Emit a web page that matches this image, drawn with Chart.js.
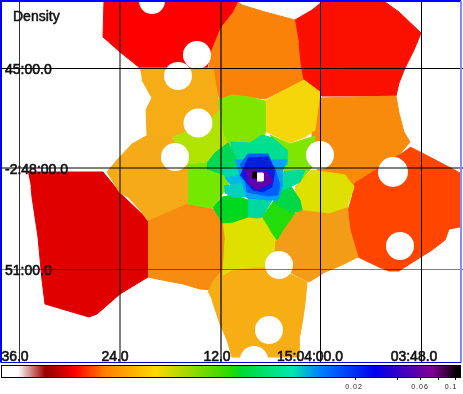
<!DOCTYPE html>
<html>
<head>
<meta charset="utf-8">
<style>
html, body { margin: 0; padding: 0; background: #fff; }
#wrap { width: 463px; height: 394px; }
</style>
<script src="https://cdn.jsdelivr.net/npm/chart.js@4/dist/chart.umd.min.js"></script>
</head>
<body>
<div id="wrap"><canvas id="myChart" width="463" height="394"></canvas></div>
<script>
// map axes are in image pixels of the sky map, labels are the WCS values
const gridX = [19, 120, 221, 320.5, 421];
const gridY = [68, 168, 269];
const gridXColors = ['#333', 'rgba(0,0,0,.5)', 'rgba(0,0,0,.6)', '#000', '#000'];
const gridYColors = ['#000', 'rgba(0,0,0,.5)', 'rgba(0,0,0,.5)'];
const gridYWidths = [1, 2, 1];
const raLabels = ['36.0', '24.0', '12.0', '15:04:00.0', '03:48.0'];
const raLabelAt = [15, 115, 217, 310, 414];
const decLabels = ['45:00.0', '-2:48:00.0', '51:00.0'];

// tessellation cells, drawn back to front
const cellColors = [
  '#ff0000', '#fb8208', '#fb1000', '#f88b0c', '#ff4500', '#e00000', '#f6ac14', '#f5aa18',
  '#f78c10', '#f6ae14', '#f29c17', '#f5d60a', '#80e600', '#b0e300', '#74e800', '#80e600',
  '#dde000', '#e0e000', '#22dd0a', '#00d820', '#00d746', '#00de90', '#00d855', '#00d8b0',
  '#00b8e8', '#00d0c0', '#00d7a0', '#00dc98', '#00a0ff', '#0060ff', '#0020e0', '#6000b0',
  '#000000', '#ffffff'
];
const cellX = [
  [104,103,120,140,207,212,221,232,238],
  [238,242,265,295,299,301,304,265,249,232,220,215,209,212,221,232],
  [295,312,322,385,399,421,414,405,399,396,322,304,301,299],
  [318,396,399,404,410,399,379,355,340,320,312,312],
  [410,422,445,460,460,449,445,432,405,399,389,379,358,352,347,349,352,355,379,399],
  [28,103,120,148,148,120,97,89,72,45,42,38,32,31],
  [140,207,213,220,213,183,172,147,146,152,142],
  [147,172,187,195,190,188,148,140,128,120,107,117,133],
  [148,188,213,226,226,213,200,183,157,148],
  [208,213,222,232,265,307,305,302,299,299,232,227,220,212],
  [275,283,304,329,347,350,358,342,325,309,295,279,274],
  [262,304,320,315,305,290,267,262],
  [218,232,249,265,265,262,232,220,220],
  [213,220,223,230,215,207,195,187,173,183],
  [188,207,228,228,223,213,188],
  [270,290,315,312,299,284],
  [295,312,345,354,347,329,304,295],
  [222,233,248,262,270,277,275,274,265,257,232,223,225],
  [262,273,283,292,295,283,277,270],
  [213,222,233,248,248,233,222],
  [275,290,300,302,292,273],
  [230,250,262,273,287,287,250,235],
  [207,215,228,240,225,207],
  [222,240,245,240,225],
  [225,240,245,232],
  [224,242,250,233,225],
  [248,262,272,262,257,248],
  [278,305,300,290,278],
  [235,247,287,282,282,278,268,247,245,240],
  [240,248,268,275,280,278,268,247,245],
  [248,268,275,272,263,253,240],
  [245,268,273,257,248],
  [252,257,257,252],
  [257,263,263,257]
];
const cellY = [
  [1,37,52,68,68,50,28,14,2],
  [2,5,12,20,43,63,80,99,97,95,100,85,67,50,28,14],
  [20,10,2,2,12,33,50,68,83,96,96,80,63,43],
  [98,96,113,132,142,155,170,185,185,180,150,130],
  [147,153,165,173,227,229,240,250,267,271,271,267,257,237,217,207,197,183,168,155],
  [172,172,193,220,277,294,314,317,312,304,280,237,197,187],
  [68,68,68,110,117,133,137,135,110,98,80],
  [135,137,163,165,187,204,221,210,197,193,172,160,143],
  [221,204,209,222,264,290,289,284,279,277],
  [292,282,270,265,262,282,304,324,340,357,357,340,324,300],
  [240,225,205,205,205,230,257,265,272,282,275,266,252],
  [102,80,92,130,137,143,132,132],
  [100,95,97,101,133,150,150,135,118],
  [117,110,133,150,160,167,167,165,137,133],
  [165,163,165,190,193,208,204],
  [135,144,136,167,183,172],
  [187,170,175,187,207,213,210,207],
  [218,215,210,212,225,240,240,252,267,267,270,275,240],
  [217,202,207,213,213,230,240,230],
  [208,197,195,200,217,222,223],
  [190,185,200,210,213,202],
  [142,143,135,138,150,165,165,165],
  [163,153,143,165,175,169],
  [170,165,172,180,178],
  [178,175,185,187],
  [186,183,197,197,193],
  [195,195,200,217,218,217],
  [172,170,182,187,192],
  [160,160,160,172,187,200,200,198,190,177],
  [165,154,154,170,185,195,196,192,178],
  [158,157,170,187,192,190,175],
  [170,172,182,190,183],
  [172,172,178,178],
  [173,173,181,181]
];

// masked point sources
const holeX = [152, 197, 178, 198, 175, 320, 393, 400, 279, 269, 254];
const holeY = [1, 55, 76, 123, 157, 155, 172, 246, 265, 330, 360];
const holeR = [13, 14, 14, 14.5, 14, 14, 15, 14, 14, 14, 14];

// colour bar along the bottom
const barStopX = [1, 18, 45, 50, 75, 105, 155, 232, 240, 292, 320, 375, 432, 458];
const barStopColors = ['#ffffff', '#ffffff', '#a00000', '#a00000', '#ff0000', '#ff8000', '#ffd800',
  '#20dc00', '#00d830', '#00e8b0', '#0080ff', '#0000ee', '#800090', '#000000'];
const barTickX = [355, 397, 420, 438, 455];
const barLabels = ['0.02', '0.06', '0.1'];
const barLabelX = [354, 420, 451];
const frameX = [1, 461];
const frameY = [1, 362.5];
const densityTitle = 'Density';

let datasets = cellX.map((xs, i) => ({
  data: xs.map((x, j) => ({ x: x, y: cellY[i][j] })),
  showLine: true,
  fill: 'shape',
  backgroundColor: cellColors[i],
  borderColor: cellColors[i],
  borderWidth: 1,
  tension: 0,
  pointRadius: 0,
  order: 100 - i
}));
datasets.push({
  data: holeX.map((x, i) => ({ x: x, y: holeY[i] })),
  pointRadius: holeR,
  pointBackgroundColor: '#fff',
  pointBorderColor: '#fff',
  pointBorderWidth: 0,
  order: 0
});

function noPadding(s) {
  s.paddingLeft = s.paddingRight = s.paddingTop = s.paddingBottom = 0;
}

const mapExtras = {
  id: 'mapExtras',
  afterDraw(chart) {
    const ctx = chart.ctx;
    const sx = chart.scales.x;
    const sy = chart.scales.y;
    const l = sx.getPixelForValue(frameX[0]);
    const r = sx.getPixelForValue(frameX[1]);
    const t = sy.getPixelForValue(frameY[0]);
    const b = sy.getPixelForValue(frameY[1]);
    ctx.save();
    ctx.lineWidth = 2;
    ctx.strokeStyle = '#0000ff';
    ctx.beginPath();
    ctx.moveTo(l, b); ctx.lineTo(l, t); ctx.lineTo(r, t);
    ctx.stroke();
    ctx.strokeStyle = '#8888ff';
    ctx.beginPath();
    ctx.moveTo(r, t); ctx.lineTo(r, b);
    ctx.stroke();
    ctx.lineWidth = 1;
    ctx.strokeStyle = '#0000dd';
    ctx.beginPath();
    ctx.moveTo(l, b); ctx.lineTo(r, b);
    ctx.stroke();

    // colour bar
    const g = ctx.createLinearGradient(barStopX[0], 0, barStopX[barStopX.length - 1], 0);
    barStopX.forEach((x, i) => {
      g.addColorStop((x - barStopX[0]) / (barStopX[barStopX.length - 1] - barStopX[0]), barStopColors[i]);
    });
    ctx.fillStyle = g;
    ctx.fillRect(1, 366, 460, 11);
    ctx.strokeStyle = '#000';
    ctx.strokeRect(1.5, 365.5, 459, 12);
    barTickX.forEach(x => {
      ctx.beginPath();
      ctx.moveTo(x + 0.5, 378); ctx.lineTo(x + 0.5, 380);
      ctx.stroke();
    });
    ctx.fillStyle = '#222';
    ctx.font = '7px "Liberation Sans"';
    ctx.letterSpacing = '1px';
    ctx.textAlign = 'center';
    ctx.textBaseline = 'middle';
    barLabels.forEach((s, i) => ctx.fillText(s, barLabelX[i], 387));

    // title
    ctx.letterSpacing = '0px';
    ctx.font = '14px "Liberation Sans"';
    ctx.fillStyle = '#111';
    ctx.strokeStyle = '#111';
    ctx.lineWidth = 0.5;
    ctx.textAlign = 'left';
    ctx.fillText(densityTitle, 13, 17);
    ctx.strokeText(densityTitle, 13, 17);
    ctx.restore();
  }
};

let myChart = new Chart(document.getElementById('myChart').getContext('2d'), {
  type: 'scatter',
  data: { datasets: datasets },
  plugins: [mapExtras],
  options: {
    responsive: false,
    animation: false,
    layout: { padding: 0, autoPadding: false },
    plugins: { legend: { display: false }, tooltip: { enabled: false } },
    scales: {
      x: {
        type: 'linear', min: 0, max: 463,
        afterBuildTicks: s => { s.ticks = gridX.map(v => ({ value: v })); },
        afterFit: s => { s.height = 0; noPadding(s); },
        ticks: { display: false },
        border: { display: false },
        grid: {
          z: 1, drawTicks: false,
          color: c => gridXColors[c.index],
          lineWidth: c => (c.index === 1 || c.index === 2 ? 2 : 1)
        }
      },
      xLabel: {
        type: 'linear', position: 'bottom', min: 0, max: 463,
        afterBuildTicks: s => { s.ticks = raLabelAt.map(v => ({ value: v })); },
        afterFit: s => { s.height = 31; noPadding(s); },
        border: { display: false },
        grid: { display: false, drawTicks: false },
        ticks: {
          z: 2, mirror: true, padding: -3, maxRotation: 0, autoSkip: false,
          color: '#111', textStrokeColor: '#111', textStrokeWidth: 0.6,
          font: { family: '"Liberation Sans"', size: 14 },
          callback: (v, i) => raLabels[i]
        }
      },
      y: {
        type: 'linear', reverse: true, min: 0, max: 363,
        afterBuildTicks: s => { s.ticks = gridY.map(v => ({ value: v })); },
        afterFit: s => { s.width = 0; noPadding(s); },
        border: { display: false },
        grid: {
          z: 1, drawTicks: false,
          color: c => gridYColors[c.index],
          lineWidth: c => gridYWidths[c.index]
        },
        ticks: {
          z: 2, mirror: true, padding: 5, labelOffset: 2, autoSkip: false,
          color: '#111', textStrokeColor: '#111', textStrokeWidth: 0.6,
          font: { family: '"Liberation Sans"', size: 14 },
          callback: (v, i) => decLabels[i]
        }
      }
    }
  }
});
</script>
</body>
</html>
